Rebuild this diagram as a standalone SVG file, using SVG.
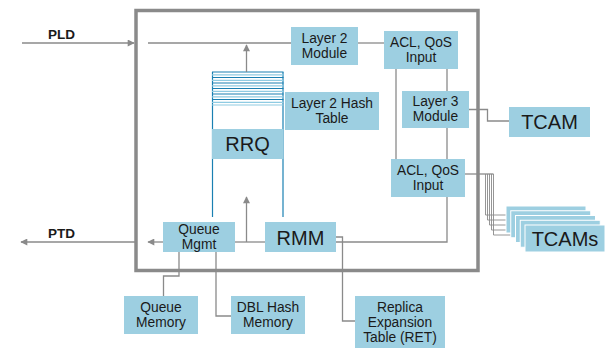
<svg xmlns="http://www.w3.org/2000/svg" width="612" height="348" viewBox="0 0 612 348">
<defs>
<marker id="arr" viewBox="0 0 10 10" refX="9" refY="5" markerWidth="9" markerHeight="7" markerUnits="userSpaceOnUse" orient="auto">
<path d="M0,0 L10,5 L0,10 z" fill="#8a8a8a"/>
</marker>
<style>
.box{fill:#9dcfe1}
.t{font-family:"Liberation Sans",Arial,sans-serif;font-size:13.8px;fill:#1a1a1a;text-anchor:middle}
.big{font-family:"Liberation Sans",Arial,sans-serif;font-size:20px;fill:#1a1a1a;text-anchor:middle}
.lbl{font-family:"Liberation Sans",Arial,sans-serif;font-size:13.5px;font-weight:bold;fill:#1a1a1a}
.ln{fill:none;stroke:#8a8a8a;stroke-width:1.3}
.fn{fill:none;stroke:#8a8a8a;stroke-width:0.9}
.dk{stroke:#1a80b2;stroke-width:1.2}
.lt{stroke:#8fcbe2;stroke-width:1.2}
</style>
</defs>
<rect x="136" y="10.5" width="342" height="260" fill="none" stroke="#8a8a8a" stroke-width="3.5"/>
<g id="rrq">
<line class="dk" x1="212.5" y1="72" x2="212.5" y2="217"/>
<line class="dk" x1="283" y1="72" x2="283" y2="217"/>
<line class="dk" x1="212" y1="72" x2="283.5" y2="72"/>
<line class="lt" x1="212" y1="74.8" x2="283.5" y2="74.8"/>
<line class="dk" x1="212" y1="77.5" x2="283.5" y2="77.5"/>
<line class="lt" x1="212" y1="80.3" x2="283.5" y2="80.3"/>
<line class="dk" x1="212" y1="83" x2="283.5" y2="83"/>
<line class="lt" x1="212" y1="85.8" x2="283.5" y2="85.8"/>
<line class="dk" x1="212" y1="88.5" x2="283.5" y2="88.5"/>
<line class="lt" x1="212" y1="91.3" x2="283.5" y2="91.3"/>
<line class="dk" x1="212" y1="94" x2="283.5" y2="94"/>
<line class="lt" x1="212" y1="96.8" x2="283.5" y2="96.8"/>
<line class="dk" x1="212" y1="99.5" x2="283.5" y2="99.5"/>
<line class="lt" x1="212" y1="102.3" x2="283.5" y2="102.3"/>
<line class="lt" x1="212" y1="105" x2="283.5" y2="105"/>
<rect class="box" x="212" y="129" width="71.5" height="30"/>
<text class="big" x="247.5" y="151">RRQ</text>
</g>
<g id="connectors">
<line class="ln" x1="22" y1="43" x2="134" y2="43" marker-end="url(#arr)"/>
<line class="ln" x1="148" y1="43" x2="291" y2="43"/>
<line class="ln" x1="358" y1="43" x2="384" y2="43"/>
<line class="ln" x1="246.5" y1="72" x2="246.5" y2="45" marker-end="url(#arr)"/>
<line class="ln" x1="396" y1="69" x2="396" y2="159"/>
<line class="ln" x1="447" y1="69" x2="447" y2="91"/>
<line class="ln" x1="447" y1="128" x2="447" y2="159"/>
<path class="ln" d="M469,109.5 H487.5 V121 H509"/>
<path class="ln" d="M336,242 H447 V197"/>
<path class="ln" d="M336,237 H342.5 V321 H355"/>
<line class="ln" x1="235" y1="242" x2="265" y2="242"/>
<line class="ln" x1="246.5" y1="242" x2="246.5" y2="197" marker-end="url(#arr)"/>
<line class="ln" x1="163" y1="242" x2="148" y2="242" marker-end="url(#arr)"/>
<line class="ln" x1="135" y1="242" x2="21" y2="242" marker-end="url(#arr)"/>
<path class="ln" d="M179,252 V276 H163.5 V296"/>
<path class="ln" d="M216,252 V316 H231"/>
<path class="ln" d="M465,174 H493.5"/>
<path class="fn" d="M485.5,174 V215 H506"/>
<path class="fn" d="M487.5,174 V220 H511"/>
<path class="fn" d="M489.5,174 V225 H515"/>
<path class="fn" d="M491.5,174 V230 H520"/>
<path class="fn" d="M493.5,174 V235 H525"/>
</g>
<text class="lbl" x="48" y="39">PLD</text>
<text class="lbl" x="48" y="238">PTD</text>
<g id="l2mod">
<rect class="box" x="291" y="27" width="67" height="38"/>
<text class="t" x="324.5" y="42.5">Layer 2</text>
<text class="t" x="324.5" y="57.5">Module</text>
</g>
<g id="acl1">
<rect class="box" x="384" y="31" width="74" height="38"/>
<text class="t" x="421" y="47">ACL, QoS</text>
<text class="t" x="421" y="62">Input</text>
</g>
<g id="l2hash">
<rect class="box" x="285" y="92" width="94" height="38"/>
<text class="t" x="332" y="107.5">Layer 2 Hash</text>
<text class="t" x="332" y="122.5">Table</text>
</g>
<g id="l3mod">
<rect class="box" x="402" y="91" width="67" height="37"/>
<text class="t" x="435.5" y="106">Layer 3</text>
<text class="t" x="435.5" y="121">Module</text>
</g>
<g id="tcam">
<rect class="box" x="509" y="107" width="81" height="30"/>
<text class="big" x="549.5" y="129">TCAM</text>
</g>
<g id="acl2">
<rect class="box" x="391" y="159" width="74" height="38"/>
<text class="t" x="428" y="175">ACL, QoS</text>
<text class="t" x="428" y="190">Input</text>
</g>
<g id="qmgmt">
<rect class="box" x="163" y="222" width="72" height="30"/>
<text class="t" x="199" y="234">Queue</text>
<text class="t" x="199" y="249">Mgmt</text>
</g>
<g id="rmm">
<rect class="box" x="265" y="222" width="71" height="30"/>
<text class="big" x="300.5" y="245">RMM</text>
</g>
<g id="qmem">
<rect class="box" x="124" y="296" width="74" height="38"/>
<text class="t" x="161" y="312">Queue</text>
<text class="t" x="161" y="327">Memory</text>
</g>
<g id="dbl">
<rect class="box" x="231" y="296" width="74" height="38"/>
<text class="t" x="268" y="312">DBL Hash</text>
<text class="t" x="268" y="327">Memory</text>
</g>
<g id="ret">
<rect class="box" x="355" y="296" width="90" height="52"/>
<text class="t" x="400" y="312">Replica</text>
<text class="t" x="400" y="327">Expansion</text>
<text class="t" x="400" y="342">Table (RET)</text>
</g>
<g id="tcams">
<rect class="box" x="506" y="206" width="80" height="27" stroke="#fff" stroke-width="1"/>
<rect class="box" x="510.75" y="210.75" width="80" height="27" stroke="#fff" stroke-width="1"/>
<rect class="box" x="515.5" y="215.5" width="80" height="27" stroke="#fff" stroke-width="1"/>
<rect class="box" x="520.25" y="220.25" width="80" height="27" stroke="#fff" stroke-width="1"/>
<rect class="box" x="525" y="225" width="80" height="27" stroke="#fff" stroke-width="1"/>
<text class="big" x="565" y="246">TCAMs</text>
</g>
</svg>
